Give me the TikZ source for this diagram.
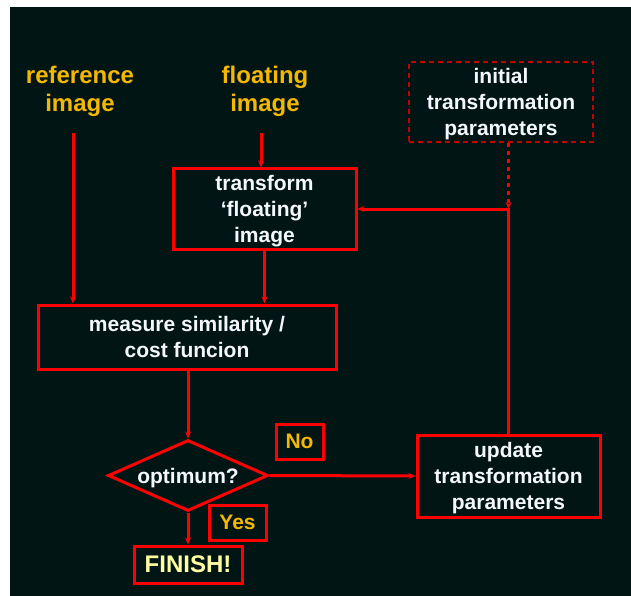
\documentclass[tikz,border=0pt]{standalone}
\usepackage{fontspec}
\setmainfont{Liberation Sans}
\usetikzlibrary{arrows.meta,shapes.geometric,positioning,calc}
\definecolor{bgdark}{RGB}{1,22,20}
\definecolor{flowred}{RGB}{255,0,0}
\definecolor{dashred}{RGB}{200,0,0}
\definecolor{labelgold}{RGB}{245,184,0}
\definecolor{finyellow}{RGB}{255,255,160}
\definecolor{textwhite}{RGB}{244,247,255}
\newcommand\flowfont{\fontsize{21}{26}\selectfont\bfseries}
\newcommand\bigflowfont{\fontsize{24}{28}\selectfont\bfseries}

\begin{document}
\begin{tikzpicture}[x=1pt,y=-1pt,
    flowbox/.style={draw=flowred,line width=3pt,inner sep=0pt,text depth=0pt,align=center,text=textwhite,font=\flowfont},
    answerbox/.style={flowbox,text=labelgold},
    flowarrow/.style={draw=flowred,line width=3pt,-{Stealth[length=7pt,width=6pt]}},
    inputlabel/.style={align=center,text=labelgold,font=\bigflowfont}
  ]
        % background
        \useasboundingbox (0,0) rectangle (631,596);
        \fill[white] (0,0) rectangle (631,596);
        \fill[bgdark] (10,7) rectangle (631,596);
        % inputs
        \node[inputlabel] (refimg) at (80,91) {reference\\image};
        \node[inputlabel] (fltimg) at (265,91) {floating\\image};
        \node[flowbox,draw=dashred,line width=1.5pt,dash pattern=on 5pt off 4pt,
              minimum width=184pt,minimum height=80pt] (init) at (501,102) {initial\\transformation\\parameters};
        % main loop
        \node[flowbox,minimum width=183pt,minimum height=80pt] (trans) at (264.5,209) {transform\\‘floating’\\image};
        \node[flowbox,minimum width=298pt,minimum height=64pt] (meas) at (187,337) {measure similarity /\\cost funcion};
        \node[flowbox,shape=diamond,aspect=2.25,minimum width=160pt,minimum height=71pt] (opt) at (188,475.5) {optimum?};
        \node[flowbox,minimum width=183pt,minimum height=82pt] (upd) at (508.5,476) {update\\transformation\\parameters};
        \node[answerbox,minimum width=47pt,minimum height=35pt] (no) at (299.5,441.5) {No};
        \node[answerbox,minimum width=57pt,minimum height=35pt] (yes) at (237.5,522.5) {Yes};
        \node[flowbox,text=finyellow,font=\bigflowfont,minimum width=108pt,minimum height=37pt] (fin) at (188,564.5) {FINISH!};
        % connectors
        \coordinate (refout) at (73,133);
        \coordinate (fltout) at (261,133);
        \draw[flowarrow] (refout) -- (refout |- meas.north);
        \draw[flowarrow] (fltout) -- (fltout |- trans.north);
        \draw[flowarrow] (trans.south) -- (trans.south |- meas.north);
        \draw[flowarrow] (meas.south -| opt.north) -- (opt.north);
        \draw[flowarrow] (opt.east) -- (upd.west);
        \draw[flowarrow] (opt.south) -- (fin.north);
        \draw[flowarrow] (upd.north) |- (trans.east);
        \draw[flowarrow,dash pattern=on 4pt off 4pt] (upd.north |- init.south) -- (upd.north |- trans.east);
      \end{tikzpicture}
\end{document}
